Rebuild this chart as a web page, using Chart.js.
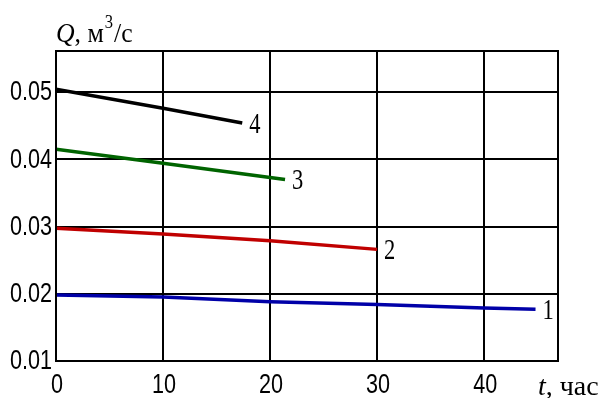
<!DOCTYPE html>
<html>
<head>
<meta charset="utf-8">
<script src="https://cdn.jsdelivr.net/npm/chart.js@4/dist/chart.umd.min.js"></script>
<style>
  html, body { margin: 0; padding: 0; background: #fff; }
  canvas { display: block; }
</style>
</head>
<body>
<canvas id="chart" width="601" height="398"></canvas>
<script>
// flow rate Q (m3/s) vs time t (h), four curves
const t1 = [0, 10, 20, 30, 40, 44.8]
const q1 = [0.0198, 0.0195, 0.0188, 0.0184, 0.0179, 0.0177]
const t2 = [0, 10, 20, 30]
const q2 = [0.02975, 0.0289, 0.0279, 0.0266]
const t3 = [0, 10, 20, 21.4]
const q3 = [0.0415, 0.0394, 0.0373, 0.0370]
const t4 = [0, 10, 17.4]
const q4 = [0.0504, 0.0476, 0.0454]
const curveNames = ['1', '2', '3', '4']
const curveColors = ['#0000a8', '#c00000', '#006400', '#000000']

const xTicks = [0, 10, 20, 30, 40]
const yTicks = [0.01, 0.02, 0.03, 0.04, 0.05]

const pts = (ts, qs) => ts.map((t, i) => ({ x: t, y: qs[i] }))

const serif = "'Liberation Serif', 'Times New Roman', serif"
const sans = "'Liberation Sans', Arial, sans-serif"

// text squeezed sideways like the original picture
function squeezed(ctx, text, x, y, font, sx, align) {
  ctx.save()
  ctx.font = font
  const w = ctx.measureText(text).width * sx
  let dx = 0
  if (align === 'right') dx = -w
  if (align === 'center') dx = -w / 2
  ctx.translate(x + dx, y)
  ctx.scale(sx, 1)
  ctx.fillText(text, 0, 0)
  ctx.restore()
  return w
}

const decorations = {
  id: 'decorations',
  afterDraw(chart) {
    const ctx = chart.ctx
    const a = chart.chartArea
    const xs = chart.scales.x
    const ys = chart.scales.y
    ctx.save()
    ctx.strokeStyle = '#000'
    ctx.lineWidth = 2
    ctx.strokeRect(a.left, a.top, a.right - a.left, a.bottom - a.top)

    ctx.fillStyle = '#000'
    ctx.textBaseline = 'middle'
    // tick labels, placed by the scales
    ys.ticks.forEach(tk => {
      squeezed(ctx, tk.value.toFixed(2), a.left - 4, ys.getPixelForValue(tk.value) + 1, '27px ' + sans, 0.8, 'right')
    })
    xs.ticks.forEach(tk => {
      squeezed(ctx, String(tk.value), xs.getPixelForValue(tk.value) + 1, a.bottom + 25, '27px ' + sans, 0.8, 'center')
    })

    chart.data.datasets.forEach((ds, i) => {
      const meta = chart.getDatasetMeta(i)
      const last = meta.data[meta.data.length - 1]
      squeezed(ctx, curveNames[i], last.x + 7, last.y + 2, '30px ' + serif, 0.75)
    })

    ctx.textBaseline = 'alphabetic'
    const sx = 0.92
    let x = a.left
    const by = a.top - 9
    x += squeezed(ctx, 'Q', x, by, 'italic 28px ' + serif, sx)
    x += squeezed(ctx, ', м', x, by, '28px ' + serif, sx)
    x += squeezed(ctx, '3', x + 1, by - 14, '18px ' + serif, sx) + 2
    squeezed(ctx, '/с', x, by, '28px ' + serif, sx)

    const tx = 538, ty = 395
    const w = squeezed(ctx, 't', tx, ty, 'italic 28px ' + serif, 1)
    squeezed(ctx, ', час', tx + w, ty, '28px ' + serif, 1)
    ctx.restore()
  }
}

new Chart(document.getElementById('chart'), {
  type: 'scatter',
  data: {
    datasets: [
      { data: pts(t1, q1) },
      { data: pts(t2, q2) },
      { data: pts(t3, q3) },
      { data: pts(t4, q4) }
    ].map((d, i) => Object.assign(d, {
      showLine: true,
      borderColor: curveColors[i],
      backgroundColor: curveColors[i],
      borderWidth: 3.5,
      pointRadius: 0,
      tension: 0
    }))
  },
  options: {
    responsive: false,
    animation: false,
    layout: { padding: { top: 51, right: 43, left: 0, bottom: 0 } },
    plugins: { legend: { display: false }, tooltip: { enabled: false } },
    scales: {
      x: {
        type: 'linear',
        min: 0,
        max: 46.9,
        afterBuildTicks: s => { s.ticks = xTicks.map(v => ({ value: v })) },
        afterFit: s => { s.height = 37 },
        grid: { color: '#000', lineWidth: 2, drawTicks: false },
        border: { display: false },
        ticks: { display: false }
      },
      y: {
        type: 'linear',
        min: 0.01,
        max: 0.0561,
        afterBuildTicks: s => { s.ticks = yTicks.map(v => ({ value: v })) },
        afterFit: s => { s.width = 56 },
        grid: { color: '#000', lineWidth: 2, drawTicks: false },
        border: { display: false },
        ticks: { display: false }
      }
    }
  },
  plugins: [decorations]
})
</script>
</body>
</html>
